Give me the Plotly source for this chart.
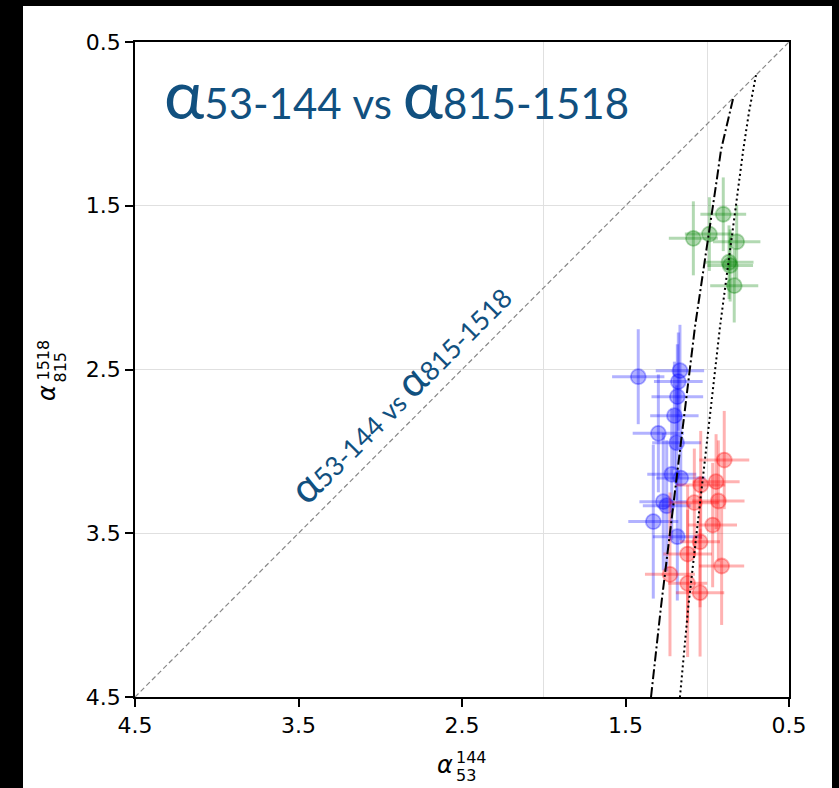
import plotly.graph_objects as go

# ---------------- data ----------------
blue_x = [1.422, 1.167, 1.177, 1.183, 1.201, 1.299, 1.187, 1.217, 1.162, 1.269, 1.248, 1.330, 1.183]
blue_y = [2.544, 2.507, 2.574, 2.666, 2.782, 2.890, 2.947, 3.140, 3.163, 3.307, 3.332, 3.429, 3.521]
blue_xerr = [0.16, 0.148, 0.149, 0.158, 0.148, 0.157, 0.15, 0.15, 0.15, 0.146, 0.146, 0.153, 0.15]
blue_yerr = [0.29, 0.28, 0.30, 0.32, 0.33, 0.36, 0.35, 0.40, 0.38, 0.42, 0.40, 0.47, 0.39]

red_x = [0.896, 0.946, 1.040, 0.932, 1.079, 0.967, 1.044, 1.120, 0.912, 1.228, 1.120, 1.044]
red_y = [3.053, 3.185, 3.205, 3.303, 3.313, 3.450, 3.552, 3.627, 3.700, 3.751, 3.806, 3.863]
red_xerr = [0.153, 0.144, 0.15, 0.16, 0.15, 0.149, 0.122, 0.149, 0.138, 0.153, 0.12, 0.148]
red_yerr = [0.30, 0.29, 0.33, 0.37, 0.33, 0.38, 0.40, 0.42, 0.36, 0.50, 0.45, 0.39]

green_x = [0.902, 1.085, 0.987, 0.820, 0.867, 0.860, 0.835]
green_y = [1.552, 1.699, 1.673, 1.720, 1.845, 1.865, 1.988]
green_xerr = [0.14, 0.15, 0.15, 0.145, 0.15, 0.14, 0.147]
green_yerr = [0.225, 0.226, 0.225, 0.225, 0.225, 0.22, 0.225]

diag_x = [4.5, 0.5]
diag_y = [4.5, 0.5]

dashdot_x = [0.8425, 0.880, 0.916, 0.942, 1.075, 1.283, 1.344]
dashdot_y = [0.848, 1.000, 1.160, 1.344, 2.239, 3.949, 4.5]

dotted_x = [0.702, 0.745, 0.780, 0.804, 0.922, 1.116, 1.167]
dotted_y = [0.702, 0.930, 1.160, 1.343, 2.239, 3.949, 4.5]

tick_vals = [4.5, 3.5, 2.5, 1.5, 0.5]
tick_text = ["4.5", "3.5", "2.5", "1.5", "0.5"]
x_grid_vals = [1.0, 2.0]

title_color = "#11507F"

# ---------------- figure ----------------
fig = go.Figure()

def add_series(xs, ys, xe, ye, rgb):
    col = "rgba(%d,%d,%d,0.3)" % rgb
    fig.add_trace(go.Scatter(
        x=xs, y=ys, mode="markers",
        error_x=dict(type="data", array=xe, visible=True, color=col, thickness=3, width=0),
        error_y=dict(type="data", array=ye, visible=True, color=col, thickness=3, width=0),
        marker=dict(size=15, color=col, line=dict(color=col, width=1.8)),
        showlegend=False, hoverinfo="skip"))

add_series(blue_x, blue_y, blue_xerr, blue_yerr, (0, 0, 255))
add_series(red_x, red_y, red_xerr, red_yerr, (255, 0, 0))
add_series(green_x, green_y, green_xerr, green_yerr, (0, 128, 0))

fig.add_trace(go.Scatter(x=diag_x, y=diag_y, mode="lines",
                         line=dict(color="#888888", width=1.2, dash="5px,3px"),
                         showlegend=False, hoverinfo="skip"))
fig.add_trace(go.Scatter(x=dashdot_x, y=dashdot_y, mode="lines",
                         line=dict(color="black", width=2, dash="10px,3px,2px,3px"),
                         showlegend=False, hoverinfo="skip"))
fig.add_trace(go.Scatter(x=dotted_x, y=dotted_y, mode="lines",
                         line=dict(color="black", width=2, dash="2px,3px"),
                         showlegend=False, hoverinfo="skip"))

axis_common = dict(
    range=[4.5, 0.5], autorange=False,
    tickmode="array", tickvals=tick_vals, ticktext=tick_text,
    ticks="outside", ticklen=8, tickwidth=1.6, tickcolor="black",
    showline=True, linecolor="black", linewidth=1.7, mirror=True,
    tickfont=dict(family="DejaVu Sans", size=22, color="black"),
    zeroline=False,
)

fig.update_xaxes(**axis_common, showgrid=False,
                 minor=dict(tickmode="array", tickvals=x_grid_vals, showgrid=True,
                            gridcolor="#e0e0e0", gridwidth=1, ticks=""))
fig.update_yaxes(**axis_common, showgrid=True, gridcolor="#e0e0e0", gridwidth=1)

W, H = 839, 788
L, R, T, B = 135, 789, 42, 697

def px(xp):
    return (xp - L) / (R - L)

def py(yp):
    return (B - yp) / (B - T)

annotations = []
# big title
annotations.append(dict(
    xref="paper", yref="paper", x=px(162), y=py(92), xanchor="left", yanchor="middle",
    showarrow=False,
    text='<span style="font-size:68px">α</span>53-144 vs <span style="font-size:68px">α</span>815-1518',
    font=dict(family="Lato", size=42, color=title_color)))
# rotated diagonal label
annotations.append(dict(
    xref="x", yref="y", x=2.885, y=2.636, xanchor="center", yanchor="middle",
    showarrow=False, textangle=-45,
    text='<span style="font-size:42px">α</span>53-144 vs <span style="font-size:42px">α</span>815-1518',
    font=dict(family="Lato", size=26.5, color=title_color)))
# x axis title
annotations.append(dict(xref="paper", yref="paper", x=px(445), y=py(765), xanchor="center", yanchor="middle",
                        showarrow=False, text="<i>α</i>", font=dict(family="DejaVu Sans", size=24, color="black")))
annotations.append(dict(xref="paper", yref="paper", x=px(454), y=py(757), xanchor="left", yanchor="middle",
                        showarrow=False, text="144", font=dict(family="DejaVu Sans", size=16, color="black")))
annotations.append(dict(xref="paper", yref="paper", x=px(454), y=py(775), xanchor="left", yanchor="middle",
                        showarrow=False, text="53", font=dict(family="DejaVu Sans", size=16, color="black")))
# y axis title
annotations.append(dict(xref="paper", yref="paper", x=px(47), y=py(393), xanchor="center", yanchor="middle",
                        showarrow=False, textangle=-90, text="<i>α</i>",
                        font=dict(family="DejaVu Sans", size=24, color="black")))
annotations.append(dict(xref="paper", yref="paper", x=px(42.5), y=py(360), xanchor="center", yanchor="middle",
                        showarrow=False, textangle=-90, text="1518",
                        font=dict(family="DejaVu Sans", size=16, color="black")))
annotations.append(dict(xref="paper", yref="paper", x=px(59.5), y=py(367), xanchor="center", yanchor="middle",
                        showarrow=False, textangle=-90, text="815",
                        font=dict(family="DejaVu Sans", size=16, color="black")))

shapes = [dict(type="rect", xref="paper", yref="paper", layer="below",
               x0=px(23), x1=px(832), y0=py(789), y1=py(6),
               fillcolor="white", line=dict(width=0))]

fig.update_layout(
    width=W, height=H, autosize=False,
    margin=dict(l=L, r=W - R, t=T, b=H - B, pad=0),
    paper_bgcolor="black", plot_bgcolor="white",
    annotations=annotations, shapes=shapes,
    showlegend=False,
)

fig.write_html("out.html")
